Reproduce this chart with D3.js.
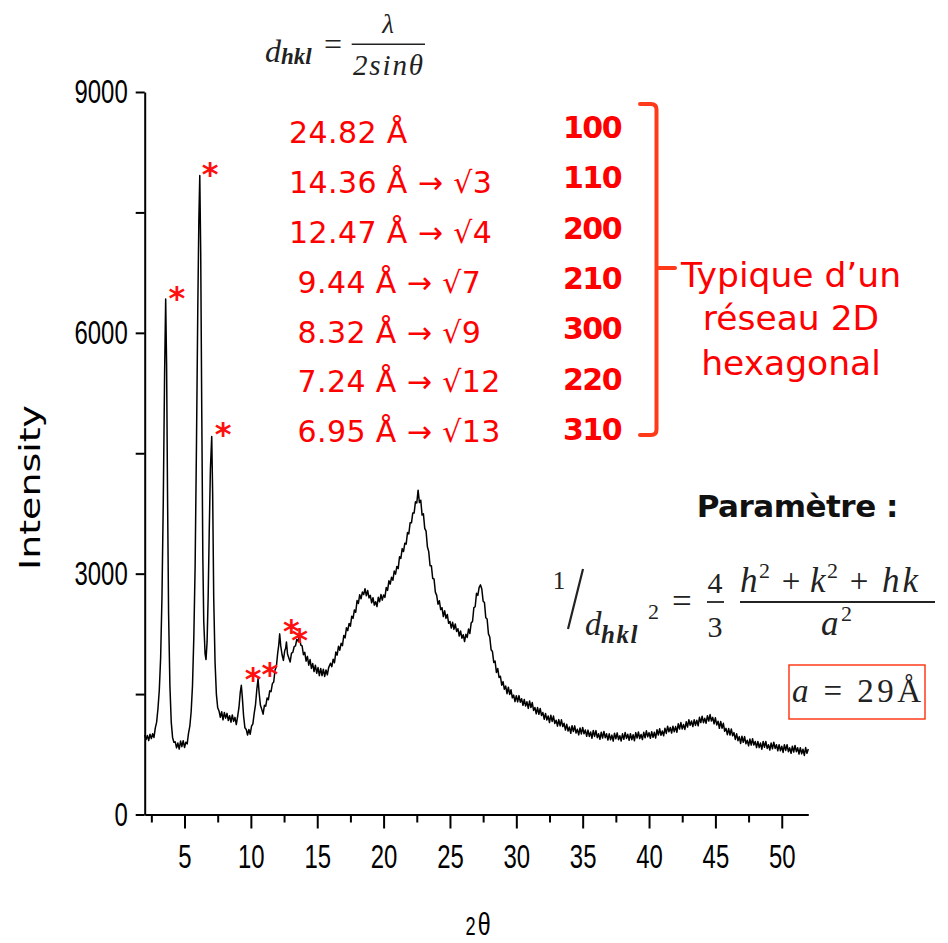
<!DOCTYPE html>
<html>
<head>
<meta charset="utf-8">
<script src="https://cdn.jsdelivr.net/npm/d3@7"></script>
<style>
  body { margin: 0; background: #fff; }
</style>
</head>
<body>
<script>
/* global d3 */

// XRD scan, [2theta, intensity] (noise included as seen)
const scanLow = [
  [2.0, 990], [2.1, 935], [2.2, 985], [2.3, 920], [2.4, 1000], [2.5, 945], [2.6, 1005], [2.7, 960], [2.8, 1080], [2.9, 1150], [3.0, 1320],
  [3.1, 1550], [3.2, 1950], [3.3, 2700], [3.4, 3900], [3.5, 5500], [3.58, 6420], [3.65, 5600], [3.72, 4000], [3.8, 2500], [3.9, 1600],
  [4.0, 1150], [4.1, 960], [4.2, 900], [4.3, 905], [4.4, 830], [4.5, 890], [4.6, 815], [4.7, 915], [4.8, 845], [4.9, 920], [5.0, 835],
  [5.1, 900], [5.2, 880], [5.3, 1010], [5.4, 1100], [5.5, 1280], [5.6, 1600], [5.7, 2200], [5.8, 3100], [5.9, 4600], [6.0, 6300],
  [6.08, 7400], [6.15, 7960], [6.22, 7000], [6.3, 5000], [6.38, 3200], [6.45, 2400], [6.55, 2000], [6.62, 1930], [6.7, 2150],
  [6.78, 2700], [6.86, 3500], [6.95, 4300], [7.05, 4710], [7.12, 4000], [7.2, 2700], [7.3, 1900], [7.4, 1500], [7.5, 1330],
  [7.6, 1290], [7.7, 1210], [7.8, 1280], [7.9, 1180], [8.0, 1270], [8.1, 1200], [8.2, 1260], [8.3, 1170], [8.4, 1230], [8.5, 1150],
  [8.6, 1240], [8.7, 1160], [8.8, 1210], [8.9, 1120], [9.0, 1220], [9.1, 1330], [9.2, 1520], [9.28, 1610], [9.36, 1450], [9.45, 1230],
  [9.55, 1080], [9.65, 1060], [9.75, 990], [9.85, 1060], [9.95, 1000], [10.05, 1100], [10.15, 1130], [10.25, 1260], [10.35, 1370],
  [10.45, 1560], [10.54, 1690], [10.62, 1520], [10.72, 1360], [10.82, 1310], [10.92, 1250], [11.02, 1360], [11.12, 1350], [11.22, 1450],
  [11.32, 1430], [11.42, 1540], [11.52, 1530], [11.62, 1630], [11.72, 1650], [11.82, 1800], [11.92, 1840], [12.02, 2010], [12.1, 2110],
  [12.17, 2250], [12.25, 2100], [12.35, 1990], [12.45, 1920], [12.55, 2040], [12.62, 2070], [12.68, 2150], [12.76, 2000], [12.86, 1950],
  [12.96, 1900], [13.06, 2010], [13.16, 2020], [13.26, 2090], [13.36, 2100], [13.46, 2180], [13.56, 2160], [13.66, 2230], [13.76, 2110],
  [13.86, 2100], [13.96, 1990], [14.06, 2020], [14.16, 1910], [14.26, 1970], [14.36, 1860], [14.46, 1930], [14.56, 1820], [14.66, 1880],
  [14.76, 1780], [14.86, 1860], [14.96, 1760], [15.06, 1830], [15.16, 1730], [15.26, 1820], [15.36, 1730], [15.46, 1810], [15.56, 1720],
  [15.66, 1800], [15.76, 1740], [15.86, 1830]
];
const scanMid = [
  [16.0, 1885], [16.1, 1842], [16.2, 1934], [16.3, 1891], [16.4, 2023], [16.5, 1985], [16.6, 2096], [16.7, 2047], [16.8, 2133], [16.9, 2104],
  [17.0, 2230], [17.1, 2200], [17.2, 2325], [17.3, 2290], [17.4, 2380], [17.5, 2345], [17.6, 2471], [17.7, 2442], [17.8, 2548], [17.9, 2519],
  [18.0, 2665], [18.1, 2629], [18.2, 2738], [18.3, 2687], [18.4, 2771], [18.5, 2740], [18.6, 2812], [18.7, 2724], [18.8, 2791], [18.9, 2698],
  [19.0, 2730], [19.1, 2637], [19.2, 2700], [19.3, 2608], [19.4, 2650], [19.5, 2590], [19.6, 2705], [19.7, 2650], [19.8, 2740], [19.9, 2670],
  [20.0, 2735], [20.1, 2704], [20.2, 2828], [20.3, 2792], [20.4, 2911], [20.5, 2870], [20.6, 2956], [20.7, 2917], [20.8, 3033], [20.9, 2994],
  [21.0, 3090], [21.1, 3063], [21.2, 3211], [21.3, 3189], [21.4, 3312], [21.5, 3275], [21.6, 3379], [21.7, 3368], [21.8, 3512], [21.9, 3496],
  [22.0, 3635], [22.1, 3633], [22.2, 3757], [22.3, 3755], [22.4, 3895], [22.5, 3880], [22.6, 4040], [22.7, 3885], [22.8, 3915], [22.9, 3730],
  [23.0, 3745], [23.1, 3565], [23.2, 3530], [23.3, 3335], [23.4, 3275], [23.5, 3100], [23.6, 3100], [23.7, 2940], [23.8, 2935], [23.9, 2770],
  [24.0, 2730], [24.1, 2619], [24.2, 2663], [24.3, 2552], [24.4, 2576], [24.5, 2465], [24.6, 2539], [24.7, 2443], [24.8, 2492], [24.9, 2381],
  [25.0, 2405], [25.1, 2322], [25.2, 2394], [25.3, 2306], [25.4, 2373], [25.5, 2280], [25.6, 2314], [25.7, 2223], [25.8, 2287], [25.9, 2196],
  [26.0, 2240], [26.1, 2155], [26.2, 2245], [26.3, 2205], [26.4, 2310], [26.5, 2255], [26.6, 2387], [26.7, 2404], [26.8, 2576], [26.9, 2588],
  [27.0, 2755], [27.1, 2730], [27.2, 2830], [27.3, 2860], [27.4, 2808], [27.5, 2657], [27.6, 2640], [27.7, 2450], [27.8, 2435], [27.9, 2250],
  [28.0, 2210], [28.1, 2053], [28.2, 2031], [28.3, 1894], [28.4, 1912], [28.5, 1770], [28.6, 1819], [28.7, 1708], [28.8, 1722], [28.9, 1611],
  [29.0, 1655], [29.1, 1560], [29.2, 1600], [29.3, 1505], [29.4, 1585], [29.5, 1495], [29.6, 1554], [29.7, 1453], [29.8, 1487], [29.9, 1406]
];
const scanHigh = [
  [30.0, 1480], [30.1, 1403], [30.2, 1481], [30.3, 1399], [30.4, 1442], [30.5, 1360], [30.6, 1433], [30.7, 1351], [30.8, 1404], [30.9, 1322],
  [31.0, 1415], [31.1, 1332], [31.2, 1394], [31.3, 1296], [31.4, 1333], [31.5, 1255], [31.6, 1332], [31.7, 1249], [31.8, 1321], [31.9, 1233],
  [32.0, 1270], [32.1, 1187], [32.2, 1259], [32.3, 1176], [32.4, 1228], [32.5, 1145], [32.6, 1237], [32.7, 1159], [32.8, 1226], [32.9, 1133],
  [33.0, 1175], [33.1, 1101], [33.2, 1182], [33.3, 1103], [33.4, 1179], [33.5, 1095], [33.6, 1136], [33.7, 1052], [33.8, 1123], [33.9, 1039],
  [34.0, 1090], [34.1, 1011], [34.2, 1107], [34.3, 1033], [34.4, 1104], [34.5, 1015], [34.6, 1061], [34.7, 992], [34.8, 1078], [34.9, 1004],
  [35.0, 1085], [35.1, 1006], [35.2, 1053], [35.3, 974], [35.4, 1051], [35.5, 972], [35.6, 1029], [35.7, 950], [35.8, 1047], [35.9, 973],
  [36.0, 1045], [36.1, 957], [36.2, 1005], [36.3, 937], [36.4, 1025], [36.5, 952], [36.6, 1035], [36.7, 957], [36.8, 1005], [36.9, 927],
  [37.0, 1005], [37.1, 930], [37.2, 989], [37.3, 914], [37.4, 1013], [37.5, 943], [37.6, 1017], [37.7, 932], [37.8, 981], [37.9, 916],
  [38.0, 1005], [38.1, 936], [38.2, 1022], [38.3, 948], [38.4, 999], [38.5, 925], [38.6, 1006], [38.7, 932], [38.8, 993], [38.9, 919],
  [39.0, 1020], [39.1, 952], [39.2, 1028], [39.3, 945], [39.4, 996], [39.5, 933], [39.6, 1024], [39.7, 956], [39.8, 1042], [39.9, 969],
  [40.0, 1020], [40.1, 949], [40.2, 1032], [40.3, 961], [40.4, 1024], [40.5, 953], [40.6, 1056], [40.7, 990], [40.8, 1068], [40.9, 987],
  [41.0, 1040], [41.1, 980], [41.2, 1075], [41.3, 1010], [41.4, 1100], [41.5, 1030], [41.6, 1085], [41.7, 1015], [41.8, 1100], [41.9, 1030],
  [42.0, 1095], [42.1, 1025], [42.2, 1130], [42.3, 1065], [42.4, 1145], [42.5, 1065], [42.6, 1120], [42.7, 1060], [42.8, 1155], [42.9, 1090],
  [43.0, 1180], [43.1, 1110], [43.2, 1165], [43.3, 1095], [43.4, 1180], [43.5, 1110], [43.6, 1175], [43.7, 1105], [43.8, 1210], [43.9, 1145],
  [44.0, 1225], [44.1, 1144], [44.2, 1198], [44.3, 1137], [44.4, 1231], [44.5, 1165], [44.6, 1245], [44.7, 1165], [44.8, 1210], [44.9, 1130],
  [45.0, 1205], [45.1, 1116], [45.2, 1162], [45.3, 1073], [45.4, 1159], [45.5, 1075], [45.6, 1136], [45.7, 1037], [45.8, 1073], [45.9, 994],
  [46.0, 1070], [46.1, 990], [46.2, 1065], [46.3, 980], [46.4, 1020], [46.5, 935], [46.6, 1005], [46.7, 920], [46.8, 970], [46.9, 885],
  [47.0, 975], [47.1, 900], [47.2, 970], [47.3, 880], [47.4, 925], [47.5, 855], [47.6, 940], [47.7, 865], [47.8, 945], [47.9, 865],
  [48.0, 910], [48.1, 833], [48.2, 910], [48.3, 833], [48.4, 890], [48.5, 813], [48.6, 910], [48.7, 838], [48.8, 910], [48.9, 823],
  [49.0, 870], [49.1, 803], [49.2, 890], [49.3, 818], [49.4, 900], [49.5, 823], [49.6, 870], [49.7, 793], [49.8, 870], [49.9, 793],
  [50.0, 850], [50.1, 773], [50.2, 870], [50.3, 798], [50.4, 870], [50.5, 783], [50.6, 830], [50.7, 763], [50.8, 850], [50.9, 778],
  [51.0, 860], [51.1, 783], [51.2, 831], [51.3, 754], [51.4, 832], [51.5, 755], [51.6, 813], [51.7, 736], [51.8, 834], [51.9, 762],
  [52.0, 815]
];
const scan = scanLow.concat(scanMid, scanHigh);

const yMajor = [0, 3000, 6000, 9000];
const yMinor = [1500, 4500, 7500];
const xMajor = [5, 10, 15, 20, 25, 30, 35, 40, 45, 50];
const xMinor = [2.5, 7.5, 12.5, 17.5, 22.5, 27.5, 32.5, 37.5, 42.5, 47.5];

// indexed peaks (stars) and the table next to them
const starPeaks = [[4.43, 6530], [6.93, 8080], [7.9, 4840], [10.17, 1790], [11.43, 1850], [13.05, 2390], [13.68, 2270]];
const dSpacing = [24.82, 14.36, 12.47, 9.44, 8.32, 7.24, 6.95];
const sqrtRatio = [null, 3, 4, 7, 9, 12, 13];
const hkl = ['100', '110', '200', '210', '300', '220', '310'];

const width = 948, height = 943;
const squeeze = 0.725; // the axis text of the picture is narrow

const svg = d3.select('body')
  .append('svg')
  .attr('width', width)
  .attr('height', height);

svg.append('rect').attr('width', width).attr('height', height).attr('fill', '#fff');

const x = d3.scaleLinear().domain([2, 52]).range([144.7, 808.3]);
const y = d3.scaleLinear().domain([0, 9000]).range([814.5, 92]);

const axisFont = '"Liberation Sans", Arial, sans-serif';

// x axis
const gxMinor = svg.append('g')
  .attr('transform', `translate(0,${y(0)})`)
  .call(d3.axisBottom(x).tickValues(xMinor).tickSize(8).tickSizeOuter(0).tickFormat(''));
gxMinor.select('.domain').remove();

const gx = svg.append('g')
  .attr('transform', `translate(0,${y(0)})`)
  .call(d3.axisBottom(x).tickValues(xMajor).tickSize(14).tickSizeOuter(0))
  .attr('font-family', axisFont)
  .attr('font-size', 33);
gx.selectAll('text')
  .attr('y', 54)
  .attr('dy', null)
  .attr('fill', '#000')
  .attr('transform', `scale(${squeeze},1)`);

// y axis
const gyMinor = svg.append('g')
  .attr('transform', `translate(${x(2)},0)`)
  .call(d3.axisLeft(y).tickValues(yMinor).tickSize(9).tickSizeOuter(0).tickFormat(''));
gyMinor.select('.domain').remove();

const gy = svg.append('g')
  .attr('transform', `translate(${x(2)},0)`)
  .call(d3.axisLeft(y).tickValues(yMajor).tickSize(9).tickSizeOuter(0).tickFormat(d3.format('d')))
  .attr('font-family', axisFont)
  .attr('font-size', 33);
gy.selectAll('text')
  .attr('x', -17 / squeeze)
  .attr('fill', '#000')
  .attr('transform', `scale(${squeeze},1)`);

svg.selectAll('.domain, .tick line').attr('stroke', '#000').attr('stroke-width', 2);

// axis titles
svg.append('text')
  .attr('transform', 'translate(40,487.5) rotate(-90) scale(1.38,1)')
  .attr('text-anchor', 'middle')
  .attr('font-family', '"DejaVu Sans", sans-serif')
  .attr('font-size', 27.5)
  .text('Intensity');

const xt = svg.append('text')
  .attr('transform', `translate(478,935) scale(${squeeze},1)`)
  .attr('text-anchor', 'middle')
  .attr('font-family', axisFont);
xt.append('tspan').attr('font-size', 25).text('2');
xt.append('tspan').attr('font-size', 32).attr('dx', 3).text('θ');

// the scan
svg.append('path')
  .datum(scan)
  .attr('fill', 'none')
  .attr('stroke', '#000')
  .attr('stroke-width', 1.5)
  .attr('stroke-linejoin', 'round')
  .attr('d', d3.line().x(d => x(d[0])).y(d => y(d[1])));

// stars over the indexed peaks
svg.selectAll('.star')
  .data(starPeaks)
  .join('text')
  .attr('class', 'star')
  .attr('x', d => x(d[0]))
  .attr('y', d => y(d[1]) + 19)
  .attr('text-anchor', 'middle')
  .attr('font-family', '"DejaVu Sans", sans-serif')
  .attr('font-weight', 'bold')
  .attr('font-size', 32)
  .attr('fill', '#ff1010')
  .text('*');

// d spacings
svg.selectAll('.dsp')
  .data(dSpacing)
  .join('text')
  .attr('class', 'dsp')
  .attr('x', (d, i) => i < 3 ? 289 : 297.5)
  .attr('y', (d, i) => 143.3 + i * 49.8)
  .attr('font-family', '"DejaVu Sans", sans-serif')
  .attr('font-size', 30)
  .attr('letter-spacing', 0.4)
  .attr('fill', '#ff0000')
  .text((d, i) => `${d.toFixed(2)} Å` + (sqrtRatio[i] ? ` → √${sqrtRatio[i]}` : ''));

svg.selectAll('.hkl')
  .data(hkl)
  .join('text')
  .attr('class', 'hkl')
  .attr('x', 563)
  .attr('y', (d, i) => 137.7 + i * 50.4)
  .attr('font-family', '"DejaVu Sans", sans-serif')
  .attr('font-weight', 'bold')
  .attr('font-size', 30)
  .attr('letter-spacing', -1.5)
  .attr('fill', '#ff0000')
  .text(d => d);

// bracket
svg.append('path')
  .attr('d', 'M640,104 H651 Q656.5,104 656.5,109.5 V429.5 Q656.5,435 651,435 H640 M656.5,268 H675')
  .attr('fill', 'none')
  .attr('stroke', '#ff3a1a')
  .attr('stroke-width', 4)
  .attr('stroke-linecap', 'round');

const typ = svg.append('g')
  .attr('font-family', '"DejaVu Sans", sans-serif')
  .attr('font-size', 34.5)
  .attr('fill', '#ff0000')
  .attr('text-anchor', 'middle');
['Typique d’un', 'réseau 2D', 'hexagonal'].forEach((t, i) => {
  typ.append('text').attr('x', 791).attr('y', [286.7, 330, 375][i]).text(t);
});

// Bragg formula at the top
const serif = '"Liberation Serif", "DejaVu Serif", serif';
const ink = '#222';
const bragg = svg.append('g').attr('font-family', serif).attr('fill', ink);
bragg.append('text').attr('x', 265).attr('y', 61.7).attr('font-size', 32).attr('font-style', 'italic').text('d');
bragg.append('text').attr('x', 281).attr('y', 63.5).attr('font-size', 23).attr('font-style', 'italic').attr('font-weight', 'bold').text('hkl');
bragg.append('text').attr('x', 324).attr('y', 55).attr('font-size', 32).text('=');
bragg.append('line').attr('x1', 351.7).attr('x2', 425).attr('y1', 44.3).attr('y2', 44.3).attr('stroke', ink).attr('stroke-width', 1.6);
bragg.append('text').attr('x', 388).attr('y', 33).attr('text-anchor', 'middle').attr('font-size', 27).attr('font-style', 'italic').text('λ');
bragg.append('text').attr('x', 353).attr('y', 75).attr('font-size', 29).attr('font-style', 'italic')
  .attr('textLength', 70).attr('lengthAdjust', 'spacing').text('2sinθ');

// parameter block
svg.append('text')
  .attr('x', 696.7).attr('y', 516.7)
  .attr('font-family', '"DejaVu Sans", sans-serif')
  .attr('font-weight', 'bold')
  .attr('font-size', 31)
  .attr('letter-spacing', -0.5)
  .attr('fill', '#111')
  .text('Paramètre :');

const fm = svg.append('g').attr('font-family', serif).attr('fill', ink);
fm.append('text').attr('x', 559).attr('y', 589).attr('text-anchor', 'middle').attr('font-size', 25).text('1');
fm.append('line').attr('x1', 583).attr('y1', 569).attr('x2', 568).attr('y2', 629).attr('stroke', ink).attr('stroke-width', 2.2);
fm.append('text').attr('x', 585).attr('y', 635).attr('font-size', 33).attr('font-style', 'italic').text('d');
fm.append('text').attr('x', 601).attr('y', 643).attr('font-size', 25).attr('font-style', 'italic').attr('font-weight', 'bold')
  .attr('letter-spacing', 1.5).text('hkl');
fm.append('text').attr('x', 648).attr('y', 619).attr('font-size', 22).text('2');
fm.append('text').attr('x', 672).attr('y', 613).attr('font-size', 35).text('=');
fm.append('text').attr('x', 715).attr('y', 593).attr('text-anchor', 'middle').attr('font-size', 30).text('4');
fm.append('line').attr('x1', 707).attr('x2', 724).attr('y1', 602).attr('y2', 602).attr('stroke', ink).attr('stroke-width', 1.8);
fm.append('text').attr('x', 715).attr('y', 637).attr('text-anchor', 'middle').attr('font-size', 30).text('3');

// numerator h² + k² + hk, token by token
const it = (t, xp) => fm.append('text').attr('x', xp).attr('y', 592).attr('font-size', 35).attr('font-style', 'italic').text(t);
const sup = (xp, yp) => fm.append('text').attr('x', xp).attr('y', yp).attr('font-size', 22).text('2');
const plus = xp => fm.append('text').attr('x', xp).attr('y', 592).attr('text-anchor', 'middle').attr('font-size', 33).text('+');
it('h', 740); sup(759, 578);
plus(791);
it('k', 810); sup(827, 578);
plus(859);
it('hk', 882).attr('letter-spacing', 3);
fm.append('line').attr('x1', 740).attr('x2', 935).attr('y1', 602).attr('y2', 602).attr('stroke', ink).attr('stroke-width', 2);
fm.append('text').attr('x', 821).attr('y', 635).attr('font-size', 35).attr('font-style', 'italic').text('a');
sup(841, 621);

// result box
svg.append('rect')
  .attr('x', 789).attr('y', 665).attr('width', 136).attr('height', 54)
  .attr('fill', 'none').attr('stroke', '#ff3a1a').attr('stroke-width', 1.5);
const res = svg.append('text').attr('x', 792).attr('y', 702).attr('font-family', serif).attr('font-size', 33).attr('fill', ink)
  .attr('textLength', 129).attr('lengthAdjust', 'spacing');
res.append('tspan').attr('font-style', 'italic').text('a');
res.append('tspan').text(' = 29Å');
</script>
</body>
</html>
